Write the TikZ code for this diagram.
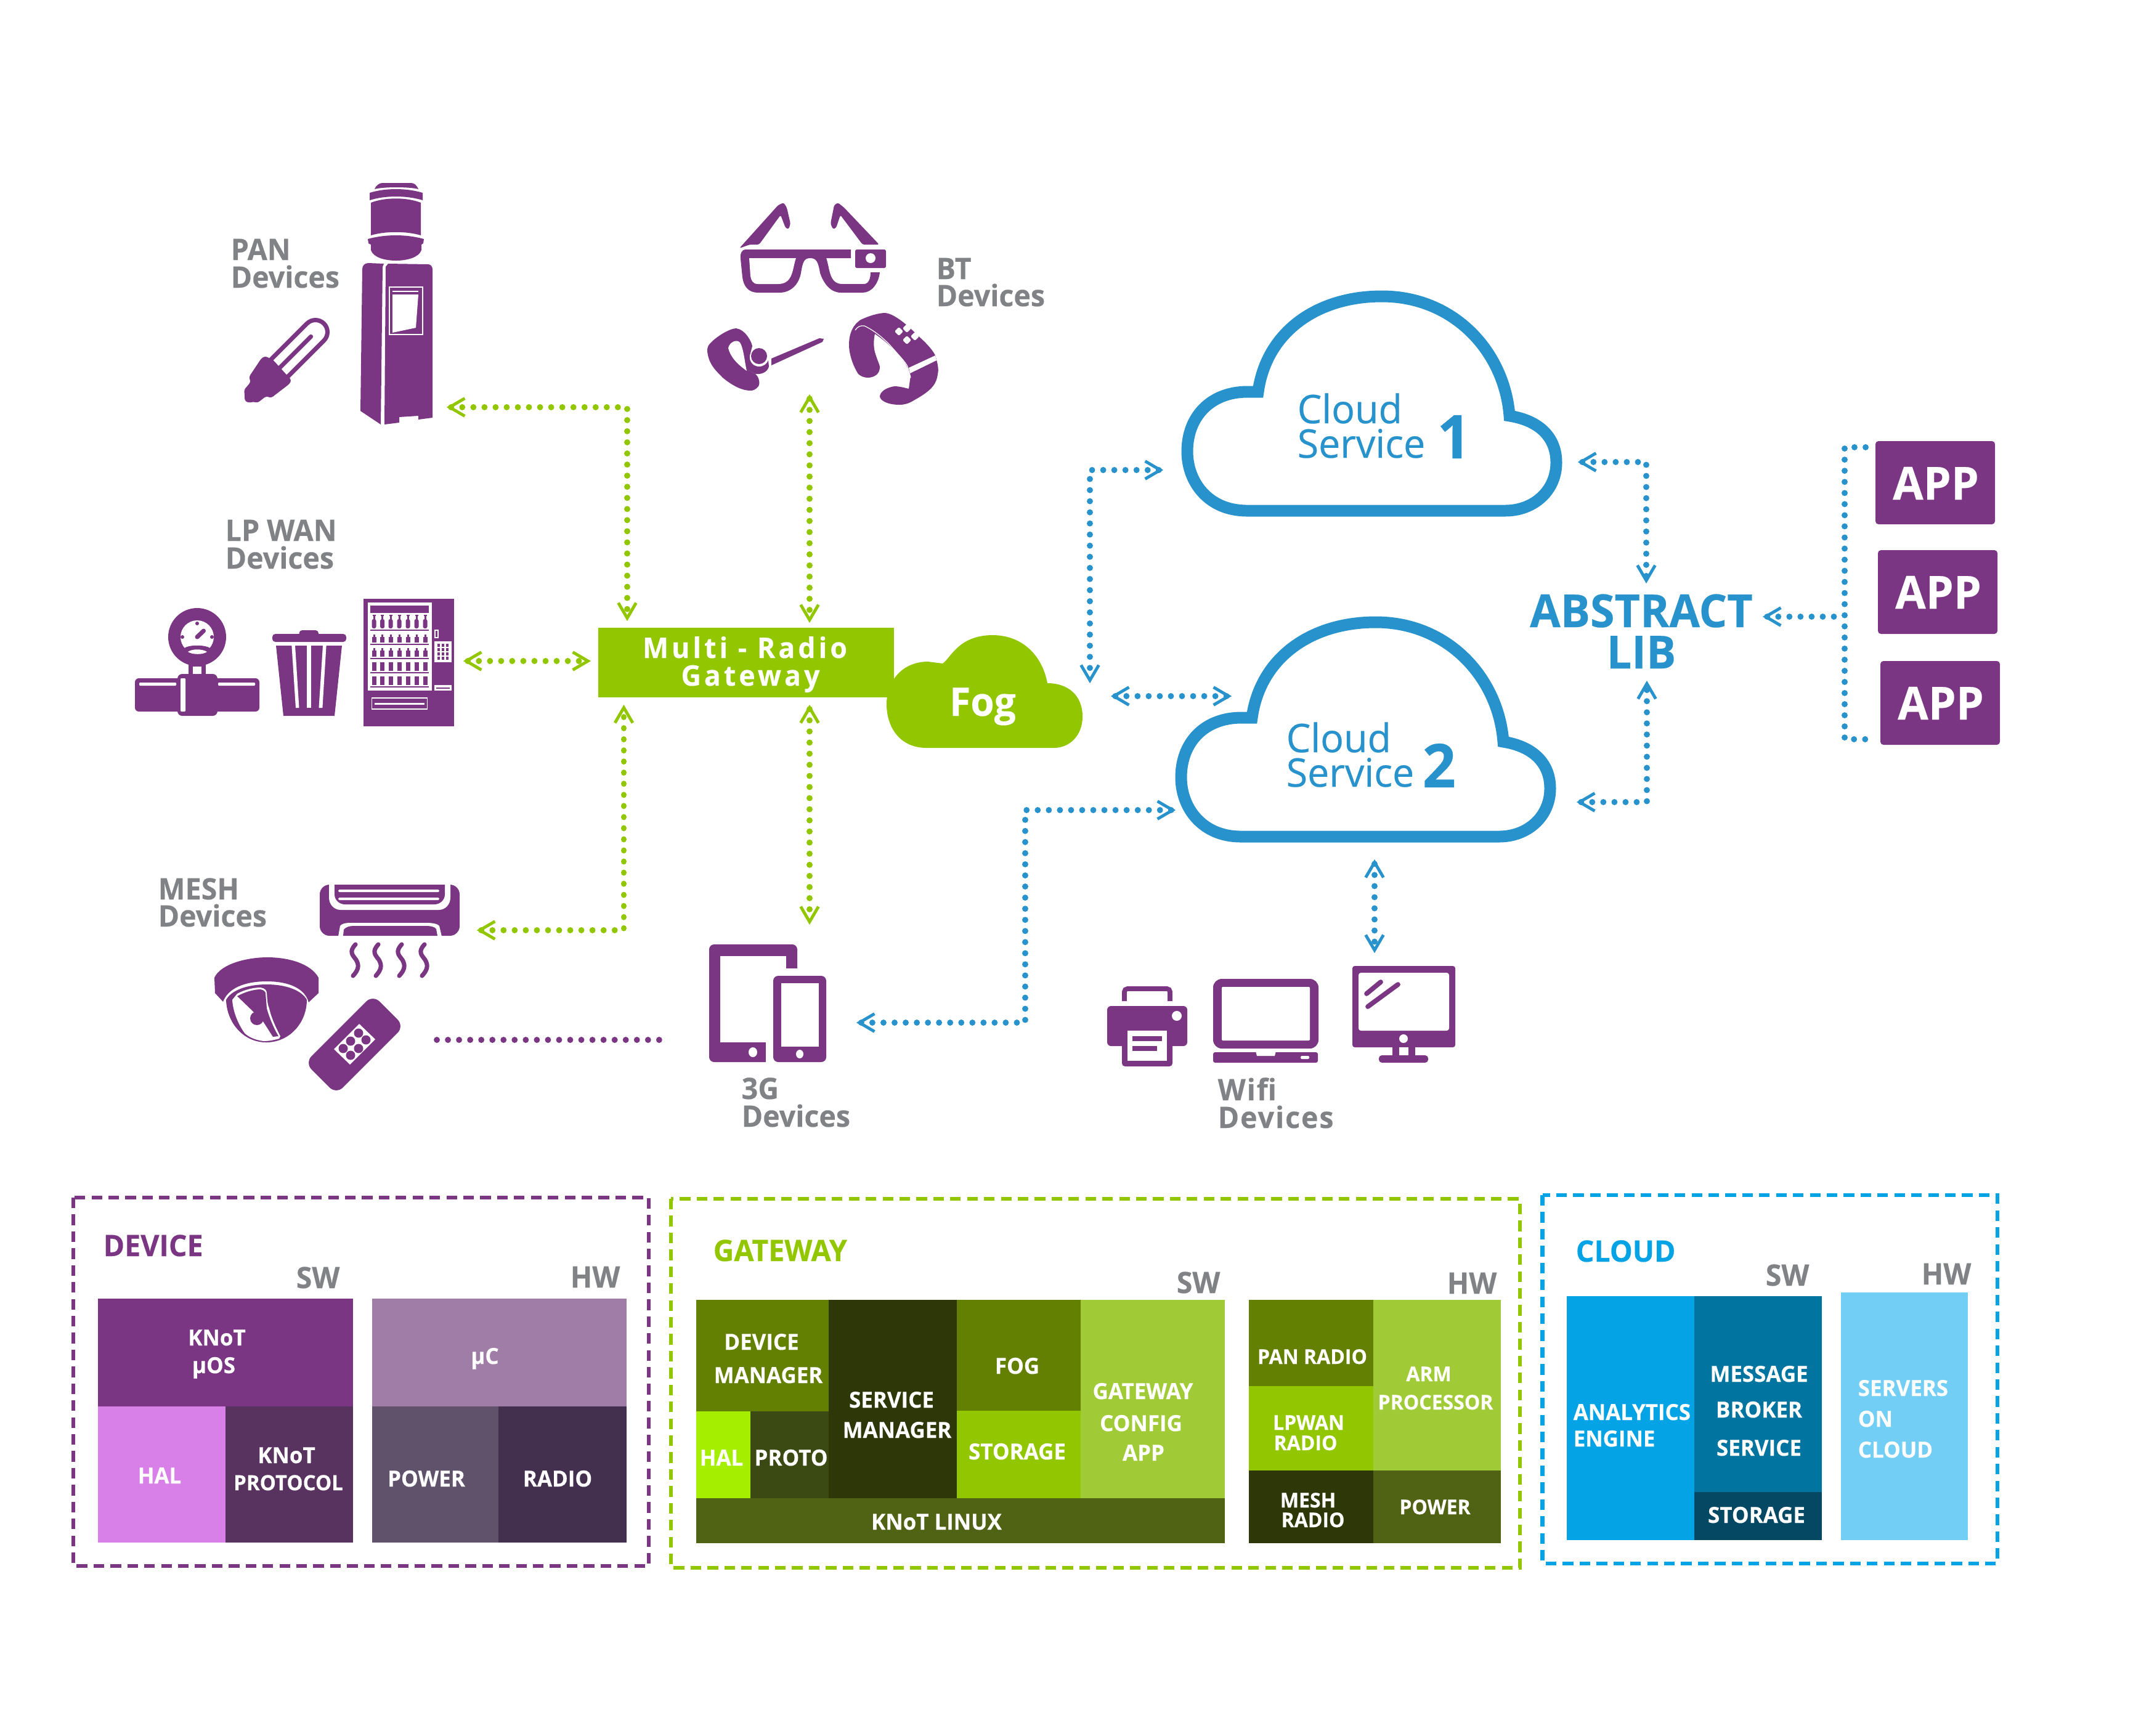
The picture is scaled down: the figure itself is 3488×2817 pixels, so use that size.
\documentclass[tikz,border=0pt]{standalone}
\usepackage{fontspec}
\usetikzlibrary{arrows.meta}
\setmainfont{Open Sans}
\newfontfamily\fbold[FakeStretch=0.97,BoldFeatures={FakeBold=0.3}]{Open Sans}
\newfontfamily\freg[FakeStretch=0.98,FakeBold=0.35]{Open Sans}
\newlength\upx \setlength\upx{0.01cm}
\newcommand\pxf[1]{\fontsize{\the\dimexpr#1\upx\relax}{\the\dimexpr#1\upx\relax}\selectfont}
\definecolor{pur}{HTML}{7A3583}
\definecolor{grn}{HTML}{92C700}
\definecolor{blu}{HTML}{2892CC}
\definecolor{sky}{HTML}{04A3E5}
\definecolor{gry}{HTML}{808285}
\definecolor{d1c}{HTML}{D880E8}\definecolor{d2c}{HTML}{58335F}\definecolor{d3c}{HTML}{A07DA6}\definecolor{d4c}{HTML}{61526C}\definecolor{d5c}{HTML}{43304F}
\definecolor{g1}{HTML}{648003}\definecolor{g2}{HTML}{2D3708}\definecolor{g3}{HTML}{A0CB36}\definecolor{g4}{HTML}{506214}\definecolor{g5}{HTML}{A5EE00}\definecolor{g6}{HTML}{3A4A12}
\definecolor{c1c}{HTML}{0274A0}\definecolor{c2c}{HTML}{054864}\definecolor{c3c}{HTML}{72CEF5}
\newcommand\lab[6][cellw]{\node[#1,font=\fbold\bfseries\pxf{#6}] (#2) at (#3,#4) {#5};}
\newcommand\cell[5]{\fill[#1] (#2,#3) rectangle (#4,#5);}
\newcommand\cloudpath{(2014,1358) .. controls (1950,1358) and (1917,1310) .. (1917,1262) .. controls (1917,1205) and (1955,1165) .. (2015,1165) -- (2032,1165) .. controls (2045,1070) and (2125,1010) .. (2233,1010) .. controls (2350,1010) and (2432,1100) .. (2440,1204) .. controls (2490,1212) and (2516,1240) .. (2516,1280) .. controls (2516,1325) and (2480,1358) .. (2433,1358) -- cycle}
\tikzset{
 chev/.tip={Straight Barb[length=7pt,width=8.2pt,line width=1.4pt,sep=1.2pt]},
 dotted line/.style={line width=2.8pt,line cap=round,dash pattern=on 0.01pt off 5.12pt},
 glink/.style={dotted line,draw=grn},
 blink/.style={dotted line,draw=blu},
 plink/.style={dotted line,draw=pur},
 pull/.style={shorten <=-1.8pt,shorten >=-1.8pt},
 pullstart/.style={shorten <=-1.8pt},
 cellw/.style={text=white,anchor=base,inner sep=0pt},
 wleft/.style={text=white,anchor=base west,inner sep=0pt},
 gtext/.style={text=gry,anchor=base west,inner sep=0pt},
 ptext/.style={text=pur,anchor=base west,inner sep=0pt},
 gntext/.style={text=grn,anchor=base west,inner sep=0pt},
 skytext/.style={text=sky,anchor=base west,inner sep=0pt},
 btext/.style={text=blu,anchor=base west,inner sep=0pt},
 frame/.style={line width=1.9pt,dash pattern=on 4.9pt off 2.9pt,fill=none},
}
\begin{document}
\begin{tikzpicture}[x=0.01cm,y=-0.01cm]
\useasboundingbox (0,0) rectangle (3488,2817);
\fill[white] (0,0) rectangle (3488,2817);

%%% Green gateway and fog
\node[fill=grn,minimum width=480\upx,minimum height=113\upx,inner sep=0pt,anchor=north west] (gw) at (970,1018) {};
\fill[grn] (1504,1214) .. controls (1460,1214) and (1439,1180) .. (1439,1143) .. controls (1439,1105) and (1465,1074) .. (1506,1074) -- (1530,1077) .. controls (1542,1070) and (1555,1031) .. (1611,1031) .. controls (1660,1031) and (1692,1065) .. (1700,1109) .. controls (1735,1109) and (1757,1130) .. (1757,1163) .. controls (1757,1195) and (1735,1214) .. (1711,1214) -- cycle;
\lab{gwa}{1209}{1068}{\addfontfeature{LetterSpace=11}Multi - Radio}{46}
\lab{gwb}{1218}{1113}{\addfontfeature{LetterSpace=11}Gateway}{46}
\lab{fog}{1595}{1162}{Fog}{64}

%%% Clouds
\draw[blu,line width=5.4pt,fill=white,line join=miter] \cloudpath;
\begin{scope}[shift={(10,-529)}]
\draw[blu,line width=5.4pt,fill=white,line join=miter] \cloudpath;
\end{scope}
\node[btext,font=\freg\pxf{64}] (c1a) at (2105,687) {Cloud};
\node[btext,font=\freg\pxf{64}] (c1b) at (2105,743) {Service};
\lab[btext]{c1n}{2332}{744}{1}{98}
\node[btext,font=\freg\pxf{64}] (c2a) at (2087,1221) {Cloud};
\node[btext,font=\freg\pxf{64}] (c2b) at (2087,1277) {Service};
\lab[btext]{c2n}{2308}{1278}{2}{98}
\lab[cellw,text=blu]{abs}{2664}{1018}{ABSTRACT}{74}
\lab[cellw,text=blu]{lib}{2664}{1085}{LIB}{74}

%%% APP boxes
\fill[pur,rounded corners=1.4pt] (3044,716) rectangle (3238,851);
\fill[pur,rounded corners=1.4pt] (3048,893) rectangle (3242,1029);
\fill[pur,rounded corners=1.4pt] (3052,1073) rectangle (3246,1209);
\lab{app1}{3142}{811}{APP}{74}
\lab{app2}{3146}{988}{APP}{74}
\lab{app3}{3150}{1168}{APP}{74}

%%% Device labels
\lab[gtext]{pan}{374}{422}{PAN}{48}
\lab[gtext]{pand}{374}{467}{Devices}{48}
\lab[gtext]{lp}{365}{878}{LP WAN}{48}
\lab[gtext]{lpd}{365}{923}{Devices}{48}
\lab[gtext]{bt}{1519}{453}{BT}{48}
\lab[gtext]{btd}{1519}{497}{Devices}{48}
\lab[gtext]{mesh}{256}{1460}{MESH}{48}
\lab[gtext]{meshd}{256}{1504}{Devices}{48}
\lab[gtext]{tg}{1203}{1784}{3G}{48}
\lab[gtext]{tgd}{1203}{1829}{Devices}{48}
\lab[gtext]{wf}{1976}{1786}{\addfontfeature{LetterSpace=4}Wifi}{48}
\lab[gtext]{wfd}{1976}{1831}{\addfontfeature{LetterSpace=4}Devices}{48}

%%% Connector ends
\coordinate (pn) at (727,661); \coordinate (gtl) at (1018,1006);
\coordinate (bta) at (1314,642); \coordinate (gtr) at (1314,1009);
\coordinate (lpa) at (754,1073); \coordinate (glf) at (957,1073);
\coordinate (msa) at (776,1510); \coordinate (gbl) at (1012.5,1146);
\coordinate (gbr) at (1314,1146); \coordinate (tga) at (1314,1499);
\coordinate (pa) at (709,1688); \coordinate (pb) at (1073,1688);
\coordinate (c1l) at (1886,763); \coordinate (fgt) at (1769,1107);
\coordinate (fgr) at (1805,1130); \coordinate (c2l) at (1997,1130);
\coordinate (c2w) at (1906,1315); \coordinate (tgr) at (1392,1660); \coordinate (tgc) at (1664,1660);
\coordinate (c1r) at (2563,750); \coordinate (abt) at (2672,945);
\coordinate (c2r) at (2561,1302); \coordinate (abb) at (2673,1107);
\coordinate (abr) at (2863,1001); \coordinate (apv) at (2994,1001);
\coordinate (ap1) at (3028,726); \coordinate (ap1c) at (2994,726);
\coordinate (ap3) at (3030,1200); \coordinate (ap3c) at (2994,1200);
\coordinate (c2b2) at (2231,1397); \coordinate (wfa) at (2231,1545);

\draw[glink,pull,{chev}-{chev}] (pn) -| (gtl);
\draw[glink,pull,{chev}-{chev}] (bta) -- (gtr);
\draw[glink,pull,{chev}-{chev}] (lpa) -- (glf);
\draw[glink,pull,{chev}-{chev}] (msa) -| (gbl);
\draw[glink,pull,{chev}-{chev}] (gbr) -- (tga);
\draw[plink] (pa) -- (pb);
\draw[blink,pull,{chev}-{chev}] (c1l) -| (fgt);
\draw[blink,pull,{chev}-{chev}] (fgr) -- (c2l);
\draw[blink,pull,{chev}-{chev}] (c2w) -| (tgc) -- (tgr);
\draw[blink,pull,{chev}-{chev}] (c1r) -| (abt);
\draw[blink,pull,{chev}-{chev}] (c2r) -| (abb);
\draw[blink,pull,{chev}-{chev}] (c2b2) -- (wfa);
\draw[blink,pullstart,{chev}-] (abr) -- (apv);
\draw[blink] (ap1) -- (ap1c) -- (ap3c) -- (ap3);

%%% ------- ICONS -------
\begin{scope}[pur]
% water cooler
\fill (608,307) .. controls (611,300) and (616,297) .. (621,297) -- (667,297) .. controls (672,297) and (676,300) .. (679,307) .. controls (665,303) and (622,303) .. (608,307) -- cycle;
\fill (600,313) .. controls (625,305) and (660,305) .. (686,313) -- (686,325) .. controls (660,317) and (625,317) .. (600,325) -- cycle;
\fill (602,329) .. controls (625,320) and (660,320) .. (683,329) -- (683,382) .. controls (660,375) and (625,375) .. (602,382) -- cycle;
\fill (597,388) .. controls (625,380) and (660,380) .. (688,388) -- (687,395) -- (684,397) -- (684,406) .. controls (680,418) and (660,423) .. (643,423) .. controls (625,423) and (606,418) .. (602,406) -- (602,397) -- (598,395) -- cycle;
\fill (598,427) -- (623,428) -- (621,433) -- (618,689) -- (585,667) -- (588,437) .. controls (588,431) and (592,427) .. (598,427) -- cycle;
\fill (630,428) -- (695,429) .. controls (699,429) and (702,433) .. (702,437) -- (702,678) -- (679,681) -- (679,675) -- (648,677) -- (648,686) -- (624,689) -- (626,433) -- cycle;
\draw[white,line width=0.5pt] (632,466) rectangle (686,543);
\fill[white] (637,472) rectangle (679,474);
\fill[white] (637,478) -- (679,478) -- (675,532) -- (637,540) -- cycle;
% lamp
\begin{scope}[shift={(454,597)},rotate=45]
\draw[line width=2pt] (-5,-19.5) -- (82,-19.5) arc[start angle=-90,end angle=90,radius=19.5] -- (-5,19.5);
\draw[line width=2pt,line cap=round] (0,0) -- (71.6,0);
\end{scope}
\fill[rounded corners=1pt] (430,578) -- (443,584) -- (473,617) -- (470,623) -- (440,646) -- (432,643) -- (418,654) -- (412,652) -- (403,654) -- (397,650) -- (397,639) -- (396,633) -- (407,620) -- (404,612) -- (424,582) -- cycle;
% glasses
\fill[rounded corners=0.8pt] (1200,403) -- (1263,333) -- (1272,329) -- (1277,337) -- (1283,363) -- (1280,372) -- (1275,370) -- (1267,349) -- (1232,397) -- (1217,397) -- cycle;
\fill[rounded corners=0.8pt] (1427,397) -- (1370,337) -- (1360,329) -- (1354,333) -- (1348,363) -- (1352,372) -- (1357,370) -- (1364,349) -- (1400,397) -- cycle;
\fill (1210,405) -- (1381,405) -- (1381,419) -- (1341,419) .. controls (1347,435) and (1345,461) .. (1367,461) -- (1402,461) .. controls (1410,461) and (1413,452) .. (1413,442) -- (1428,442) .. controls (1426,460) and (1415,475) .. (1400,475) -- (1365,475) .. controls (1345,475) and (1335,455) .. (1331,443) .. controls (1328,425) and (1325,419) .. (1315,419) .. controls (1305,419) and (1303,425) .. (1300,443) .. controls (1297,460) and (1285,475) .. (1265,475) -- (1230,475) .. controls (1215,475) and (1207,465) .. (1205,450) -- (1202,420) .. controls (1201,410) and (1205,405) .. (1210,405) -- cycle;
\fill[white] (1216,419) -- (1292,419) .. controls (1286,435) and (1288,461) .. (1263,461) -- (1230,461) .. controls (1222,461) and (1219,455) .. (1218,448) -- cycle;
\fill[rounded corners=0.8pt] (1388,405) rectangle (1438,435);
\fill[white] (1413,419) circle (8);
% headset
\fill (1148,570) .. controls (1148,562) and (1150,560) .. (1155,555) .. controls (1165,545) and (1185,533) .. (1195,533) .. controls (1210,535) and (1220,555) .. (1221,562) -- (1217,577) -- (1213,600) -- (1226,607) .. controls (1232,612) and (1234,622) .. (1231,627) .. controls (1226,633) and (1222,634) .. (1218,634) .. controls (1205,634) and (1190,627) .. (1173,613) .. controls (1160,600) and (1150,590) .. (1148,570) -- cycle;
\fill[white] (1182,565) .. controls (1184,555) and (1196,550) .. (1201,556) .. controls (1207,565) and (1209,590) .. (1212,602) .. controls (1195,590) and (1185,578) .. (1182,565) -- cycle;
\fill (1232,578) circle (13);
\fill (1217,575) .. controls (1215,590) and (1225,595) .. (1232,595) .. controls (1240,595) and (1245,590) .. (1247,585) -- (1248,595) .. controls (1245,605) and (1235,608) .. (1226,607) -- (1213,600) -- (1212,578) -- cycle;
\fill (1252,582) -- (1330,549) -- (1337,550) -- (1335,555) -- (1252,593) -- cycle;
% smart band
\fill (1378,560) .. controls (1378,540) and (1385,527) .. (1397,519) .. controls (1410,513) and (1425,508) .. (1437,508) .. controls (1455,510) and (1480,535) .. (1490,545) .. controls (1505,558) and (1515,570) .. (1518,577) .. controls (1522,590) and (1524,600) .. (1522,607) .. controls (1520,625) and (1510,635) .. (1483,650) .. controls (1475,655) and (1468,657) .. (1460,657) .. controls (1440,657) and (1428,650) .. (1428,643) .. controls (1430,632) and (1445,628) .. (1452,627) .. controls (1460,627) and (1470,630) .. (1475,631) -- (1478,610) .. controls (1475,600) and (1470,590) .. (1465,584) .. controls (1450,565) and (1435,552) .. (1420,542) .. controls (1418,550) and (1418,560) .. (1419,567) .. controls (1421,578) and (1427,590) .. (1428,595) .. controls (1428,603) and (1425,606) .. (1423,608) .. controls (1418,612) and (1413,613) .. (1408,613) .. controls (1402,613) and (1396,610) .. (1393,607) .. controls (1385,595) and (1378,575) .. (1378,560) -- cycle;
\draw[white,line width=0.35pt] (1388,536) .. controls (1392,530) and (1397,528) .. (1403,529) .. controls (1420,537) and (1435,550) .. (1447,563) .. controls (1460,578) and (1470,588) .. (1473,595) -- (1478,613);
\fill[white] (1475,597) -- (1518,577) -- (1520,585) -- (1477,606) -- cycle;
\foreach \dx/\dy in {1459/538,1472/533,1485/546,1472/552}{\begin{scope}[shift={(\dx,\dy)},rotate=45]\fill[white,rounded corners=0.6pt] (-5,-5) rectangle (5,5);\end{scope}}
% gauge + pipe
\fill[rounded corners=1.8pt] (219,1101) rectangle (421,1155);
\fill[white,rounded corners=0.3pt] (226,1108) rectangle (286,1113);
\fill[white,rounded corners=0.3pt] (354,1108) rectangle (414,1113);
\fill[rounded corners=2.2pt] (288,1094) rectangle (353,1162);
\fill[white,rounded corners=0.3pt] (293,1101) rectangle (301,1155);
\fill (306,1078) rectangle (334,1096);
\fill[white] (313,1082) rectangle (327,1094);
\fill (320,1034) circle (47);
\fill[white] (320,1034) circle (27);
\fill (320,1012) circle (3);
\fill (296,1034) circle (3);
\fill (344,1034) circle (3);
\draw[line width=2pt,line cap=round] (320,1034) -- (330.5,1024);
\begin{scope}
\clip (320,1034) circle (28);
\fill (298,1053) .. controls (305,1046) and (335,1046) .. (342,1053) -- (345,1066) -- (295,1066) -- cycle;
\end{scope}
\fill[white] (305,1058) .. controls (312,1053) and (328,1053) .. (336,1058) .. controls (330,1063) and (312,1063) .. (305,1058) -- cycle;
% trash
\fill[rounded corners=1.4pt] (485.5,1023) rectangle (517,1034);
\fill[rounded corners=1.4pt] (442,1029) rectangle (562,1042);
\fill (448,1048) -- (555,1048) -- (543,1162) -- (460,1162) -- cycle;
\fill[white] (473.4,1048) -- (479,1048) -- (485.5,1149) -- (480,1149) -- cycle;
\fill[white] (498,1048) rectangle (504.5,1149);
\fill[white] (524,1048) -- (529.6,1048) -- (523.4,1149) -- (517.5,1149) -- cycle;
% vending machine
\fill (590,972) rectangle (737,1179);
\fill[white] (597,978) rectangle (701,1121);
\fill (601,983) rectangle (695.5,995);
\foreach \ry in {1023,1046,1069,1092,1115}{\fill (601,\ry-1) rectangle (695.5,\ry+1);}
\foreach \bx in {607,620.6,634,648,662,676,690}{
 \fill[rounded corners=0.8pt] (\bx-3.5,1005) rectangle (\bx+3.5,1020);
 \fill (\bx-1.5,999) rectangle (\bx+1.5,1007);
 \fill (\bx-2.5,998) rectangle (\bx+2.5,1000);
 \fill (\bx-3.5,1034) rectangle (\bx+3.5,1043);
 \fill (\bx-1.5,1030) rectangle (\bx+1.5,1035);
 \fill (\bx-3.5,1056) rectangle (\bx+3.5,1066);
 \fill (\bx-1.5,1052) rectangle (\bx+1.5,1057);
 \fill (\bx-3.5,1075) rectangle (\bx+3.5,1089);
 \fill (\bx-3.5,1098) rectangle (\bx+3.5,1112);
}
\fill[white] (705,1041) rectangle (733,1075);
\foreach \ky in {1047,1054,1061,1068}{\foreach \kx in {712,719,725.5}{\fill (\kx-2,\ky-2.5) rectangle (\kx+2,\ky+2.5);}}
\fill[white] (705,1022) rectangle (712,1036); \fill (707,1024) rectangle (710,1034);
\fill[white] (705,1112) rectangle (733,1121); \fill (708,1115.5) rectangle (730,1117.5);
\draw[white,line width=0.35pt] (603.6,1133) rectangle (693.8,1151);
\fill[white] (608,1141) rectangle (689,1144);
% air con
\fill[rounded corners=4.5pt] (519,1436) rectangle (746,1519);
\fill[white] (534,1430) -- (534,1457) .. controls (534,1468) and (542,1477) .. (553,1477) -- (712,1477) .. controls (723,1477) and (731,1468) .. (731,1457) -- (731,1430) -- cycle;
\fill (543,1436) -- (722,1436) -- (722,1452) .. controls (722,1461) and (714,1468) .. (705,1468) -- (560,1468) .. controls (551,1468) and (543,1461) .. (543,1452) -- cycle;
\fill[white,rounded corners=0.5pt] (549,1444) rectangle (713,1448);
\fill[white,rounded corners=0.5pt] (549,1457) rectangle (713,1461);
\fill[white] (549,1520) -- (552,1503) .. controls (554,1500) and (560,1498) .. (567,1498) -- (693,1498) .. controls (703,1498) and (711,1500) .. (713,1503) -- (717,1520) -- cycle;
\fill (557,1519) -- (558,1509) .. controls (560,1506) and (566,1503) .. (573,1503) -- (693,1503) .. controls (700,1503) and (706,1505) .. (708,1508) -- (710,1519) -- cycle;
\foreach \wx in {0,37,75,112}{
 \begin{scope}[xshift=\wx*0.01cm]
 \draw[line width=2pt,line cap=round] (577,1533) .. controls (566,1545) and (572,1550) .. (578,1558) .. controls (584,1568) and (581,1575) .. (573,1584);
 \end{scope}
}
% dome camera
\fill (348,1587) .. controls (358,1565) and (400,1554) .. (434,1554) .. controls (470,1554) and (505,1565) .. (517,1587) -- (517,1612) -- (501,1627) .. controls (495,1605) and (470,1593) .. (433,1593) .. controls (395,1593) and (370,1605) .. (362,1626) -- (349,1612) -- cycle;
\fill (367,1623) .. controls (375,1608) and (400,1598) .. (433,1598) .. controls (465,1598) and (490,1608) .. (498,1623) .. controls (498,1660) and (470,1692) .. (432,1692) .. controls (395,1692) and (368,1660) .. (367,1623) -- cycle;
\fill[white] (377,1623) -- (385,1613) .. controls (398,1606) and (412,1603) .. (423,1603) .. controls (430,1604) and (433,1608) .. (433,1612) .. controls (434,1625) and (434,1630) .. (437,1637) .. controls (441,1655) and (450,1672) .. (455,1682) -- (453,1686) .. controls (445,1688) and (438,1690) .. (428,1690) .. controls (412,1688) and (402,1682) .. (397,1677) .. controls (385,1660) and (378,1640) .. (377,1623) -- cycle;
\fill (385,1617) .. controls (398,1610) and (412,1606) .. (423,1606) .. controls (428,1607) and (431,1610) .. (431,1612) -- (433,1637) .. controls (438,1655) and (446,1672) .. (452,1682) -- (443,1683) -- (427,1658) -- (412,1643) -- cycle;
\fill (417,1653) circle (11);
% bandage
\begin{scope}[shift={(575.5,1695.5)},rotate=45]
\fill[rounded corners=4.3pt] (-78,-36) rectangle (78,36);
\end{scope}
\fill[white] (583,1662) -- (609,1687) -- (568,1728) -- (542,1703) -- cycle;
\foreach \dx/\dy in {582/1677,569/1690,594/1688,582/1702,557/1702,569/1713}{\fill (\dx,\dy) circle (7.5);}
% tablet + phone
\fill[rounded corners=2.3pt] (1151,1533) rectangle (1294,1724);
\fill[white] (1169,1552) rectangle (1276,1692);
\fill[white] (1276,1572) rectangle (1300,1730);
\fill[white] (1243,1692) rectangle (1300,1730);
\fill[rounded corners=2.3pt] (1255,1584) rectangle (1341,1724);
\fill[white] (1268,1596) rectangle (1329,1699);
\fill[white] (1298,1711) ellipse (6 and 7);
\fill[white] (1222,1708) ellipse (7 and 8);
% printer
\draw[line width=2.2pt,rounded corners=1.4pt] (1825,1625) -- (1825,1605) -- (1899,1605) -- (1899,1625);
\fill[rounded corners=1.8pt] (1797,1633) rectangle (1927,1698);
\fill[rounded corners=1.4pt] (1821,1660) rectangle (1903,1731);
\fill[white] (1830,1673) rectangle (1894,1722);
\fill (1838,1682) rectangle (1886,1690);
\fill (1838,1698) rectangle (1878,1706);
\fill[white] (1910,1649) circle (8);
% laptop
\fill[rounded corners=4pt] (1969,1589) rectangle (2140,1702);
\fill[white,rounded corners=0.4pt] (1983,1602) rectangle (2126,1689);
\fill[rounded corners=0.9pt] (1969,1708) rectangle (2139,1725);
\fill[white] (2038,1706) -- (2071,1706) -- (2069,1714) -- (2040,1714) -- cycle;
\fill[white,rounded corners=0.6pt] (2111,1714) rectangle (2125,1719);
% monitor
\fill[rounded corners=1.1pt] (2195,1568) rectangle (2362,1700);
\fill[white,rounded corners=1.1pt] (2205,1579) rectangle (2352,1673);
\fill[white] (2278,1686) circle (7);
\fill (2260,1698) rectangle (2297,1715);
\fill[white] (2271,1700) rectangle (2286,1713);
\fill[rounded corners=1.4pt] (2238,1713) rectangle (2318,1725);
\draw[line width=2.2pt,line cap=round] (2241,1594) -- (2218,1613);
\draw[line width=2.2pt,line cap=round] (2269,1598) -- (2220,1634);
\end{scope}

%%% ---- DEVICE panel ----
\draw[frame,pur] (119,1944) rectangle (1053,2542);
\lab[ptext]{pdev}{167}{2039}{DEVICE}{48}
\lab[gtext]{dsw}{480}{2091}{SW}{48}
\lab[gtext]{dhw}{925}{2090}{HW}{48}
\cell{pur}{159}{2108}{573}{2283}
\cell{d1c}{159}{2283}{366}{2504}
\cell{d2c}{366}{2283}{573}{2504}
\cell{d3c}{604}{2108}{1017}{2283}
\cell{d4c}{604}{2283}{809}{2504}
\cell{d5c}{809}{2283}{1017}{2504}
\lab{d1}{352}{2184}{KNoT}{36}
\lab{d2}{347}{2229}{µOS}{36}
\lab{d3}{787}{2214}{µC}{36}
\lab{d4}{259}{2408}{HAL}{36}
\lab{d5}{465}{2375}{KNoT}{36}
\lab{d6}{468}{2419}{PROTOCOL}{34}
\lab{d7}{692}{2413}{POWER}{36}
\lab{d8}{905}{2413}{RADIO}{36}

%%% ---- GATEWAY panel ----
\draw[frame,grn] (1089,1946) rectangle (2467,2545);
\lab[gntext]{pgw}{1157}{2047}{GATEWAY}{48}
\lab[gtext]{gsw}{1909}{2099}{SW}{48}
\lab[gtext]{ghw}{2348}{2100}{HW}{48}
\cell{g1}{1130}{2110}{1345}{2291}
\cell{g5}{1130}{2291}{1218}{2432}
\cell{g6}{1218}{2291}{1345}{2432}
\cell{g2}{1345}{2110}{1553}{2432}
\cell{g1}{1553}{2110}{1754}{2290}
\cell{grn}{1553}{2290}{1754}{2432}
\cell{g3}{1754}{2110}{1988}{2432}
\cell{g4}{1130}{2432}{1988}{2505}
\cell{g1}{2027}{2110}{2229}{2250}
\cell{grn}{2027}{2250}{2229}{2387}
\cell{g2}{2027}{2387}{2229}{2505}
\cell{g3}{2229}{2110}{2436}{2387}
\cell{g4}{2229}{2387}{2436}{2505}
\lab{g01}{1236}{2191}{DEVICE}{36}
\lab{g02}{1247}{2245}{MANAGER}{36}
\lab{g03}{1171}{2379}{HAL}{36}
\lab{g04}{1284}{2379}{PROTO}{36}
\lab{g05}{1447}{2285}{SERVICE}{36}
\lab{g06}{1456}{2334}{MANAGER}{36}
\lab{g07}{1651}{2230}{FOG}{36}
\lab{g08}{1651}{2369}{STORAGE}{36}
\lab{g09}{1855}{2271}{GATEWAY}{36}
\lab{g10}{1852}{2323}{CONFIG}{36}
\lab{g11}{1856}{2371}{APP}{36}
\lab{g12}{1520}{2483}{KNoT LINUX}{36}
\lab{g13}{2130}{2214}{PAN RADIO}{33}
\lab{g14}{2319}{2242}{ARM}{33}
\lab{g15}{2330}{2288}{PROCESSOR}{33}
\lab{g16}{2124}{2321}{LPWAN}{33}
\lab{g17}{2119}{2354}{RADIO}{33}
\lab{g18}{2123}{2447}{MESH}{33}
\lab{g19}{2131}{2479}{RADIO}{33}
\lab{g20}{2329}{2458}{POWER}{33}

%%% ---- CLOUD panel ----
\draw[frame,sky] (2503.5,1940) rectangle (3242,2538);
\lab[skytext]{pcl}{2557}{2048}{CLOUD}{48}
\lab[gtext]{csw}{2865}{2087}{SW}{48}
\lab[gtext]{chw}{3118}{2085}{HW}{48}
\cell{sky}{2543}{2104}{2750}{2500}
\cell{c1c}{2750}{2104}{2957}{2422}
\cell{c2c}{2750}{2422}{2957}{2500}
\cell{c3c}{2988}{2098}{3194}{2500}
\lab[wleft]{c01}{2553}{2305}{ANALYTICS}{36}
\lab[wleft]{c02}{2553}{2348}{ENGINE}{36}
\lab{c03}{2855}{2243}{MESSAGE}{36}
\lab{c04}{2855}{2301}{BROKER}{36}
\lab{c05}{2855}{2363}{SERVICE}{36}
\lab{c06}{2851}{2472}{STORAGE}{36}
\lab[wleft]{c07}{3015}{2266}{SERVERS}{36}
\lab[wleft]{c08}{3015}{2316}{ON}{36}
\lab[wleft]{c09}{3015}{2366}{CLOUD}{36}
\end{tikzpicture}
\end{document}
